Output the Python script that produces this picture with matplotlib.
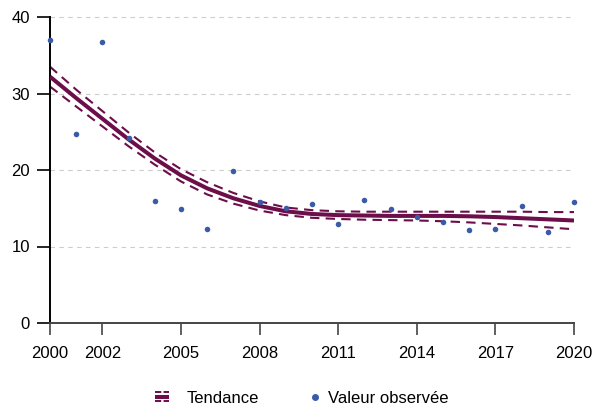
import numpy as np
import matplotlib
matplotlib.use("Agg")
import matplotlib.pyplot as plt
from matplotlib.lines import Line2D
from matplotlib.legend_handler import HandlerBase

plt.rcParams['font.family'] = ['Liberation Sans', 'DejaVu Sans']

# observed yearly values
years = np.arange(2000, 2021)
observed = [37.0, 24.7, 36.7, 24.2, 15.9, 14.9, 12.3, 19.9, 15.8, 15.0, 15.6,
            12.9, 16.1, 14.9, 13.9, 13.2, 12.2, 12.3, 15.3, 11.9, 15.8]

# fitted trend and its band
trend = [32.2, 29.4, 26.7, 24.0, 21.5, 19.3, 17.6, 16.3, 15.3, 14.6, 14.25,
         14.1, 14.05, 14.0, 14.0, 14.0, 13.95, 13.85, 13.7, 13.55, 13.4]
trend_upper = [33.5, 30.5, 27.7, 24.9, 22.3, 20.1, 18.4, 17.0, 15.9, 15.1, 14.75,
               14.6, 14.55, 14.55, 14.55, 14.55, 14.55, 14.55, 14.55, 14.5, 14.5]
trend_lower = [30.9, 28.3, 25.7, 23.1, 20.7, 18.5, 16.8, 15.6, 14.7, 14.1, 13.75,
               13.6, 13.5, 13.45, 13.4, 13.3, 13.15, 12.95, 12.75, 12.5, 12.25]

xticks = [2000, 2002, 2005, 2008, 2011, 2014, 2017, 2020]
yticks = [0, 10, 20, 30, 40]

TREND_COLOR = '#6b0e4a'
DOT_COLOR = '#3a5ba8'
DASHES = (4.5, 3)


class TrendHandler(HandlerBase):
    def create_artists(self, legend, orig_handle, xdescent, ydescent,
                       width, height, fontsize, trans):
        x0, x1 = -xdescent, width - xdescent
        mid = height / 2 - ydescent
        arts = []
        for dy, lw, style in [(3.2, 1.4, (0, (3.2, 1.2))), (0, 2.9, '-'),
                              (-3.2, 1.4, (0, (3.2, 1.2)))]:
            ln = Line2D([x0, x1], [mid + dy, mid + dy], color=TREND_COLOR,
                        lw=lw, linestyle=style, solid_capstyle='butt',
                        dash_capstyle='butt')
            ln.set_transform(trans)
            arts.append(ln)
        return arts


class DotHandler(HandlerBase):
    def create_artists(self, legend, orig_handle, xdescent, ydescent,
                       width, height, fontsize, trans):
        mid = height / 2 - ydescent
        dot = Line2D([width - xdescent + 4], [mid], marker='o', markersize=4,
                     color=DOT_COLOR, linestyle='none')
        dot.set_transform(trans)
        return [dot]


fig = plt.figure(figsize=(5.95, 4.07), dpi=100)
ax = fig.add_axes([50 / 595, 84 / 407, 524 / 595, 306 / 407])

for y in yticks[1:]:
    ax.axhline(y, color='#cccccc', lw=0.8, linestyle=(0, (4, 4)), zorder=0,
               clip_on=False)

ax.plot(years, trend_upper, color=TREND_COLOR, lw=1.5, dashes=DASHES, zorder=2)
ax.plot(years, trend_lower, color=TREND_COLOR, lw=1.5, dashes=DASHES, zorder=2)
ax.plot(years, trend, color=TREND_COLOR, lw=2.9, zorder=3,
        solid_capstyle='butt')
ax.scatter(years, observed, s=16, color=DOT_COLOR, zorder=4, clip_on=False,
           linewidths=0)

ax.set_xlim(2000, 2020)
ax.set_ylim(0, 40)
ax.set_xticks(xticks)
ax.set_yticks(yticks)

for side in ('top', 'right'):
    ax.spines[side].set_visible(False)
ax.spines['left'].set_color('black')
ax.spines['left'].set_linewidth(1.4)
ax.spines['bottom'].set_color('#444444')
ax.spines['bottom'].set_linewidth(1.4)

ax.tick_params(axis='y', length=9.4, width=1.2, pad=5, labelsize=12,
               color='black')
ax.tick_params(axis='x', length=8.6, width=1.2, pad=8, labelsize=12,
               color='#444444')

handles = [Line2D([], []), Line2D([], [])]
fig.legend(handles, ['Tendance', 'Valeur observée'], loc='center',
           bbox_to_anchor=(0.507, 0.022), ncol=2, frameon=False, fontsize=12,
           handlelength=0.8, handletextpad=1.1, columnspacing=2.2,
           handler_map={handles[0]: TrendHandler(), handles[1]: DotHandler()})

fig.savefig('out.png', dpi=100)
